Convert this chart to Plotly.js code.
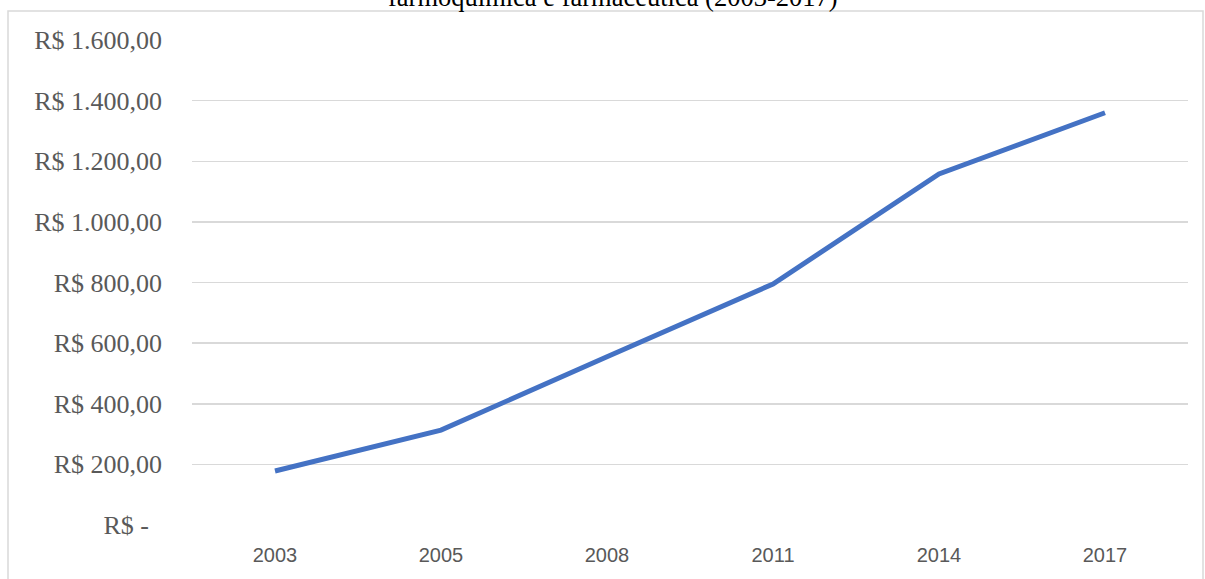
<!DOCTYPE html>
<html>
<head>
<meta charset="utf-8">
<script src="https://cdn.plot.ly/plotly-3.0.1.min.js"></script>
<style>html,body{margin:0;padding:0;background:#fff;}#chart{width:1205px;height:579px;}</style>
</head>
<body>
<div id="chart"></div>
<script>
const years = ["2003", "2005", "2008", "2011", "2014", "2017"];
const values = [178, 313, 555, 795, 1158, 1360];
const yTickVals = [0, 200, 400, 600, 800, 1000, 1200, 1400, 1600];
const yTickText = ["R$ -\u00a0\u00a0", "R$ 200,00", "R$ 400,00", "R$ 600,00", "R$ 800,00", "R$ 1.000,00", "R$ 1.200,00", "R$ 1.400,00", "R$ 1.600,00"];
const titleText = "farmoquímica e farmacêutica (2003-2017)";

const W = 1205, H = 579;
const L = 192, R = 17, T = 40, B = 54;
const pw = W - L - R, ph = H - T - B;
const px = x => (x - L) / pw;
const py = y => (H - B - y) / ph;

Plotly.newPlot('chart', [{
  x: years, y: values, type: 'scatter', mode: 'lines',
  line: {color: '#4472C4', width: 5},
  hoverinfo: 'skip'
}], {
  width: W, height: H,
  margin: {l: L, r: R, t: T, b: B, pad: 0},
  paper_bgcolor: '#ffffff', plot_bgcolor: '#ffffff',
  showlegend: false,
  xaxis: {
    type: 'category', range: [-0.5, 5.5],
    showgrid: false, zeroline: false, showline: false,
    ticks: '', tickfont: {family: 'Liberation Sans, Arial, sans-serif', size: 20, color: '#595959'},
    ticklabelstandoff: 16
  },
  yaxis: {
    range: [0, 1600], tickvals: yTickVals, ticktext: yTickText,
    showgrid: true, gridcolor: '#d9d9d9', gridwidth: 1.5,
    zeroline: false, showline: false, ticks: '',
    tickfont: {family: 'Liberation Serif, Times New Roman, serif', size: 26, color: '#595959'},
    ticklabelstandoff: 29
  },
  shapes: [{
    type: 'rect', xref: 'paper', yref: 'paper',
    x0: px(8), x1: px(1203), y0: py(590), y1: py(11),
    line: {color: '#d9d9d9', width: 1.5}, fillcolor: 'rgba(0,0,0,0)', layer: 'below'
  }],
  annotations: [{
    text: titleText, xref: 'paper', yref: 'paper',
    x: px(613), y: py(14), xanchor: 'center', yanchor: 'bottom',
    showarrow: false,
    font: {family: 'Liberation Serif, Times New Roman, serif', size: 26.5, color: '#000000'}
  }]
}, {staticPlot: true});
</script>
</body>
</html>
